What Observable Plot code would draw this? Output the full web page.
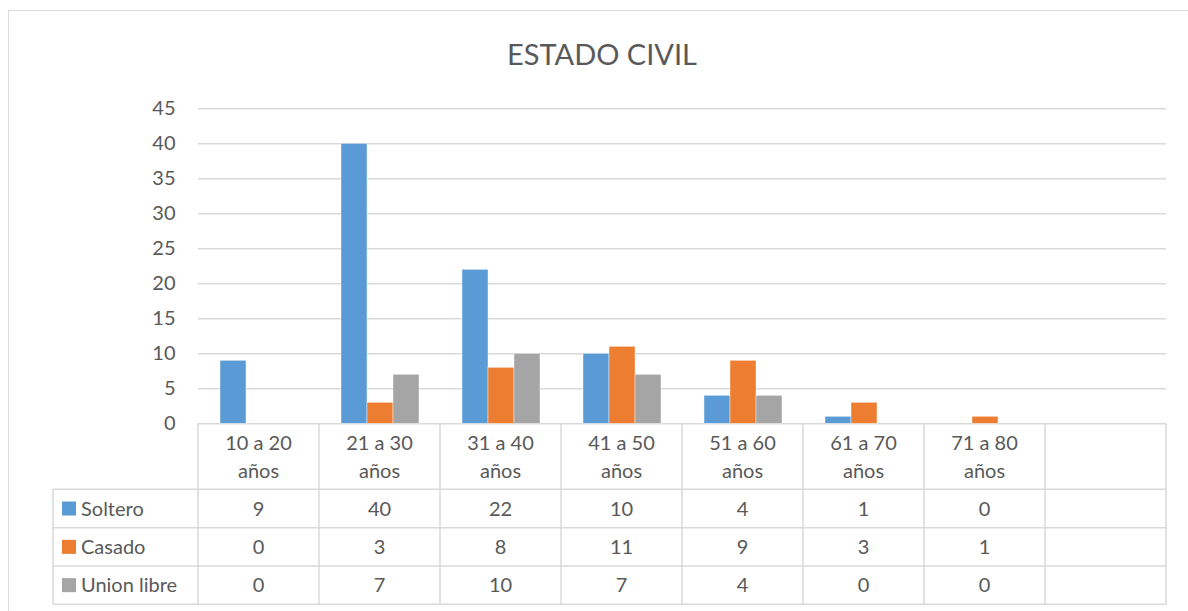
<!DOCTYPE html>
<html>
<head>
<meta charset="utf-8">
<script src="https://cdn.jsdelivr.net/npm/d3@7"></script>
<script src="https://cdn.jsdelivr.net/npm/@observablehq/plot@0.6"></script>
<style>
  body { margin: 0; background: #fff; font-family: Lato, "Open Sans", sans-serif; color: #595959; }
  #wrap { position: relative; width: 1188px; height: 611px; overflow: hidden; background: #fff; }
  #frame { position: absolute; left: 8px; top: 10px; width: 1220px; height: 640px; border: 1px solid #d9d9d9; box-sizing: border-box; }
  #title { position: absolute; left: 0; width: 1204px; top: 36px; line-height: 35px; text-align: center; font-size: 29px; font-weight: 400; color: #595959; }
  #chart { position: absolute; left: 0; top: 0; }
  #table { position: absolute; left: 0; top: 0; }
</style>
</head>
<body>
<div id="wrap">
  <div id="frame"></div>
  <div id="title">ESTADO CIVIL</div>
  <div id="chart"></div>
  <svg id="table" width="1188" height="611"></svg>
</div>
<script>
const categories = ["10 a 20 años", "21 a 30 años", "31 a 40 años", "41 a 50 años", "51 a 60 años", "61 a 70 años", "71 a 80 años"];
const columnSlots = [...categories, ""];
const seriesNames = ["Soltero", "Casado", "Union libre"];
const soltero = [9, 40, 22, 10, 4, 1, 0];
const casado = [0, 3, 8, 11, 9, 3, 1];
const unionLibre = [0, 7, 10, 7, 4, 0, 0];
const seriesColors = ["#5B9BD5", "#ED7D31", "#A5A5A5"];
const yTicks = [0, 5, 10, 15, 20, 25, 30, 35, 40, 45];

const seriesValues = [soltero, casado, unionLibre];
const rows = [];
categories.forEach((c, i) => seriesNames.forEach((s, j) => rows.push({category: c, series: s, value: seriesValues[j][i]})));
const gridRows = columnSlots.flatMap(slot => yTicks.map(tick => ({slot, tick})));

const FONT = "Lato, 'Open Sans', sans-serif";
const GRID = "#d9d9d9";

const chart = Plot.plot({
  width: 1188,
  height: 424,
  marginTop: 108.3,
  marginBottom: 0.7,
  marginLeft: 196,
  marginRight: 21,
  style: {fontFamily: FONT, fontSize: "20px", color: "#595959", background: "transparent", overflow: "visible"},
  fx: {domain: columnSlots, padding: 0, axis: null},
  x: {domain: seriesNames, paddingInner: 0, paddingOuter: 0.765, axis: null},
  y: {domain: [0, 45], axis: null},
  color: {domain: seriesNames, range: seriesColors},
  marks: [
    Plot.ruleY(gridRows, {fx: "slot", y: "tick", stroke: GRID, strokeWidth: 1.5}),
    Plot.barY(rows, {fx: "category", x: "series", y: "value", fill: "series", filter: d => d.value > 0, stroke: "#ffffff", strokeWidth: 0.4}),
    Plot.axisY(yTicks, {tickSize: 0, tickPadding: 23, label: null, fontSize: 20, fill: "#595959"})
  ]
});
document.getElementById("chart").appendChild(chart);

// Data table below the chart, aligned to the fx scale
const fx = chart.scale("fx");
const bw = fx.bandwidth;
const colStarts = columnSlots.map(s => fx.apply(s));
const right = colStarts[colStarts.length - 1] + bw;
const legendLeft = 53;
const yTop = 423.3, yHeader = 489.3;
const rowLines = [489.3, 527.7, 566, 604.3];

const svg = d3.select("#table");
const lines = svg.append("g").attr("stroke", GRID).attr("stroke-width", 1.5);
rowLines.forEach(y => lines.append("line").attr("x1", legendLeft).attr("x2", right).attr("y1", y).attr("y2", y));
[...colStarts, right].forEach(x => lines.append("line").attr("x1", x).attr("x2", x).attr("y1", yTop).attr("y2", rowLines[3]));
lines.append("line").attr("x1", legendLeft).attr("x2", legendLeft).attr("y1", yHeader).attr("y2", rowLines[3]);

const txt = svg.append("g").attr("fill", "#595959").attr("font-family", FONT).attr("font-size", 20);
columnSlots.forEach((slot, i) => {
  if (!slot) return;
  const cx = colStarts[i] + bw / 2;
  const parts = slot.split(" años");
  txt.append("text").attr("x", cx).attr("y", 450).attr("text-anchor", "middle").text(parts[0]);
  txt.append("text").attr("x", cx).attr("y", 478).attr("text-anchor", "middle").text("años");
});
seriesNames.forEach((name, j) => {
  const yc = (rowLines[j] + rowLines[j + 1]) / 2;
  svg.append("rect").attr("x", 62).attr("y", yc - 7).attr("width", 14).attr("height", 14).attr("fill", seriesColors[j]);
  txt.append("text").attr("x", 81).attr("y", yc + 7.2).text(name);
  seriesValues[j].forEach((v, i) => {
    txt.append("text").attr("x", colStarts[i] + bw / 2).attr("y", yc + 7.2).attr("text-anchor", "middle").text(v);
  });
});
</script>
</body>
</html>
